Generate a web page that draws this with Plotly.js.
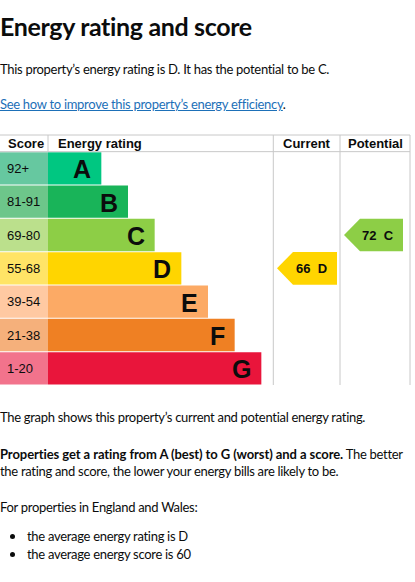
<!DOCTYPE html>
<html><head><meta charset="utf-8">
<script src="https://cdn.plot.ly/plotly-3.0.1.min.js"></script>
<style>
html,body{margin:0;padding:0;background:#fff}
body{width:415px;height:582px;position:relative;font-family:Lato,"Noto Sans",sans-serif;color:#0b0c0c;overflow:hidden}
.t{position:absolute;left:0;white-space:nowrap;font-size:13px;line-height:16px;letter-spacing:-0.3px}
.t b{letter-spacing:-0.08px}
a{color:#1d70b8;text-decoration:underline}
.dot{position:absolute;left:10px;width:5px;height:5px;border-radius:50%;background:#0b0c0c}
</style></head><body>
<div class="t" style="top:11px;font-size:25px;line-height:30px;font-weight:700;letter-spacing:-0.35px">Energy rating and score</div>
<div class="t" style="top:61px">This property’s energy rating is D. It has the potential to be C.</div>
<div class="t" style="top:96px"><a>See how to improve this property’s energy efficiency</a>.</div>
<div id="chart" style="position:absolute;left:0;top:130px;width:415px;height:260px"></div>
<div class="t" style="top:409px">The graph shows this property’s current and potential energy rating.</div>
<div class="t" style="top:446px"><b>Properties get a rating from A (best) to G (worst) and a score.</b> The better</div>
<div class="t" style="top:463px">the rating and score, the lower your energy bills are likely to be.</div>
<div class="t" style="top:499px">For properties in England and Wales:</div>
<div class="dot" style="top:534px"></div>
<div class="t" style="top:528px;left:27px">the average energy rating is D</div>
<div class="dot" style="top:552px"></div>
<div class="t" style="top:546px;left:27px">the average energy score is 60</div>
<script>
// ---- data ----
const ratings = ['A','B','C','D','E','F','G'];
const scoreRanges = ['92+','81-91','69-80','55-68','39-54','21-38','1-20'];
const bandLength = [2,3,4,5,6,7,8];
const bandColors = ['#00c781','#19b459','#8dce46','#ffd500','#fcaa65','#ef8023','#e9153b'];
const scoreColors = ['#66c8a0','#6dc68a','#bbe08c','#ffe466','#ffc9a2','#f5b07b','#f2738c'];
const headers = ['Score','Energy rating','Current','Potential'];
const currentScore = 66, currentRating = 'D';
const potentialScore = 72, potentialRating = 'C';

// ---- layout helpers ----
const W = 415, U = 26.667;          // px per band unit
const SCORE_W = 1.8;                // score column width in band units
const px = v => v / W;              // px -> paper
const rows = ratings.map((r,i)=>i);
const grid = '#c8c8c8';
const F = 'Liberation Sans, Arial, sans-serif';
const colCur = [273.3, 340], colPot = [340, 410];

const traces = [
  {type:'bar', orientation:'h', y:rows, x:scoreRanges.map(()=>SCORE_W), base:0,
   marker:{color:scoreColors, line:{width:0}}, hoverinfo:'skip'},
  {type:'bar', orientation:'h', y:rows, x:bandLength, base:SCORE_W,
   marker:{color:bandColors, line:{width:0}}, hoverinfo:'skip'}
];

const ann = [];
scoreRanges.forEach((s,i)=>ann.push({x:0, y:i, xref:'x', yref:'y', text:s, showarrow:false,
  xanchor:'left', xshift:5, font:{family:F, size:13, color:'#0b0c0c'}}));
ratings.forEach((r,i)=>ann.push({x:SCORE_W+bandLength[i], y:i, xref:'x', yref:'y', text:'<b>'+r+'</b>',
  showarrow:false, xanchor:'right', xshift:-8, yshift:-1, font:{family:F, size:25, color:'#0b0c0c'}}));
const hy = -0.75;
ann.push({x:px(6), y:hy, xref:'paper', yref:'y', text:'<b>'+headers[0]+'</b>', showarrow:false, xanchor:'left', font:{family:F,size:13,color:'#0b0c0c'}});
ann.push({x:SCORE_W, y:hy, xref:'x', yref:'y', text:'<b>'+headers[1]+'</b>', showarrow:false, xanchor:'left', xshift:8, font:{family:F,size:13,color:'#0b0c0c'}});
ann.push({x:px((colCur[0]+colCur[1])/2), y:hy, xref:'paper', yref:'y', text:'<b>'+headers[2]+'</b>', showarrow:false, xanchor:'center', font:{family:F,size:13,color:'#0b0c0c'}});
ann.push({x:px((colPot[0]+colPot[1])/2), y:hy, xref:'paper', yref:'y', text:'<b>'+headers[3]+'</b>', showarrow:false, xanchor:'center', font:{family:F,size:13,color:'#0b0c0c'}});

const shapes = [];
const hline = y => shapes.push({type:'line', xref:'paper', yref:'y', x0:0, x1:px(410), y0:y, y1:y, line:{color:grid, width:1}});
hline(-1); hline(-0.5);
shapes.push({type:'line', xref:'x', yref:'y', x0:SCORE_W, x1:SCORE_W, y0:-1, y1:-0.5, line:{color:grid,width:1}});
[273.3, 340, 410].forEach(xp=>shapes.push({type:'line', xref:'paper', yref:'y', x0:px(xp), x1:px(xp), y0:-1, y1:6.5, line:{color:grid,width:1}}));

function arrow(rating, score, tipPx, leftPx, rightPx, textPx){
  const i = ratings.indexOf(rating), h = 0.49;
  shapes.push({type:'path', xref:'paper', yref:'y', fillcolor:bandColors[i], line:{width:0},
    path:`M${px(tipPx)},${i} L${px(leftPx)},${i-h} L${px(rightPx)},${i-h} L${px(rightPx)},${i+h} L${px(leftPx)},${i+h} Z`});
  ann.push({x:px(textPx), y:i, xref:'paper', yref:'y', text:'<b>'+score+'&nbsp; '+rating+'</b>', showarrow:false,
    xanchor:'center', font:{family:F, size:13, color:'#0b0c0c'}});
}
arrow(currentRating, currentScore, 277, 293, 337, 311);
arrow(potentialRating, potentialScore, 344, 360, 403, 378);

const layout = {
  width:415, height:260, margin:{l:0,r:0,t:4,b:5,pad:0},
  paper_bgcolor:'#fff', plot_bgcolor:'#fff', showlegend:false,
  barmode:'overlay', bargap:0.03,
  xaxis:{range:[0, W/U], visible:false, fixedrange:true},
  yaxis:{range:[6.5, -1.03], visible:false, fixedrange:true},
  shapes:shapes, annotations:ann
};
Plotly.newPlot('chart', traces, layout, {staticPlot:true, displayModeBar:false});
</script>
</body></html>
